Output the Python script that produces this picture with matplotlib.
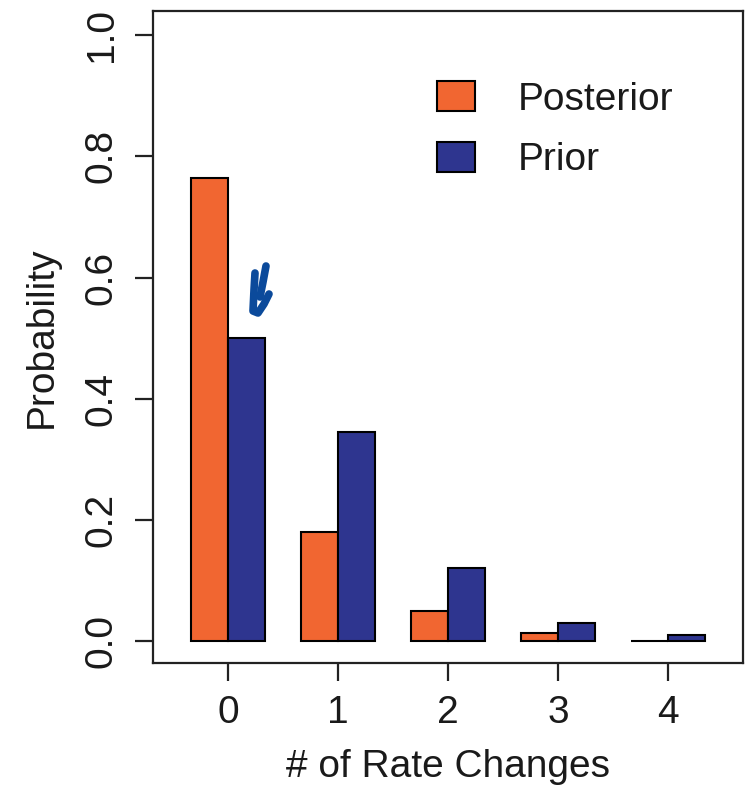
import matplotlib
matplotlib.use("Agg")
import matplotlib.pyplot as plt
import numpy as np

categories = ["0", "1", "2", "3", "4"]
posterior = [0.764, 0.180, 0.050, 0.013, 0.001]
prior = [0.501, 0.345, 0.121, 0.030, 0.010]
yticks = [0.0, 0.2, 0.4, 0.6, 0.8, 1.0]
ytick_labels = ["0.0", "0.2", "0.4", "0.6", "0.8", "1.0"]

orange = "#F16631"
blue = "#2E358F"

plt.rcParams['font.family'] = ['Liberation Sans', 'DejaVu Sans']
fs = 28
tc = "#1A1A1A"

fig = plt.figure(figsize=(7.5, 7.91), dpi=100)
W, H = 750, 791
left, right, top, bottom = 153, 743, 11, 663
ax = fig.add_axes([left / W, 1 - bottom / H, (right - left) / W, (bottom - top) / H])

centers = np.arange(len(categories)) * 3.0
ax.bar(centers - 0.5, posterior, width=1.0, color=orange, edgecolor="black",
       linewidth=1.5, label="Posterior")
ax.bar(centers + 0.5, prior, width=1.0, color=blue, edgecolor="black",
       linewidth=1.5, label="Prior")

ax.set_xlim(-2.05, 14.05)
ax.set_ylim(-0.036, 1.04)
ax.set_xticks(centers)
ax.set_xticklabels(categories, fontsize=fs, color=tc)
ax.set_yticks(yticks)
ax.set_yticklabels(ytick_labels, fontsize=fs, rotation=90, va="center", color=tc)
for s in ax.spines.values():
    s.set_linewidth(1.6)
    s.set_color("#222222")
ax.tick_params(axis="both", direction="out", length=13, width=1.6, color="#222222")
ax.tick_params(axis="x", pad=10)
ax.tick_params(axis="y", pad=11)

ax.set_xlabel("# of Rate Changes", fontsize=fs, labelpad=13, color=tc)
ax.set_ylabel("Probability", fontsize=fs, labelpad=17, color=tc)

leg = ax.legend(loc="upper left", bbox_to_anchor=((437 - left) / (right - left), 1 - (81 - top) / (bottom - top)),
                frameon=False, fontsize=fs, handlelength=0.97, handleheight=0.82,
                handletextpad=1.1, labelspacing=0.62, borderaxespad=0, borderpad=0)
for t in leg.get_texts():
    t.set_color(tc)

# hand-drawn annotation mark (axes coordinates)
def px(x, y):
    return ((x - left) / (right - left), 1 - (y - top) / (bottom - top))

mark_col = "#0B4A9B"
a = [px(255, 273), px(254, 290), px(253, 311), px(258, 313), px(264, 304), px(269, 294)]
b = [px(266, 266), px(263, 282), px(260, 297)]
for stroke in (a, b):
    xs, ys = zip(*stroke)
    ax.plot(xs, ys, transform=ax.transAxes, color=mark_col, lw=5.5,
            solid_capstyle="round", solid_joinstyle="round", clip_on=False)

fig.savefig("out.png", dpi=100)
